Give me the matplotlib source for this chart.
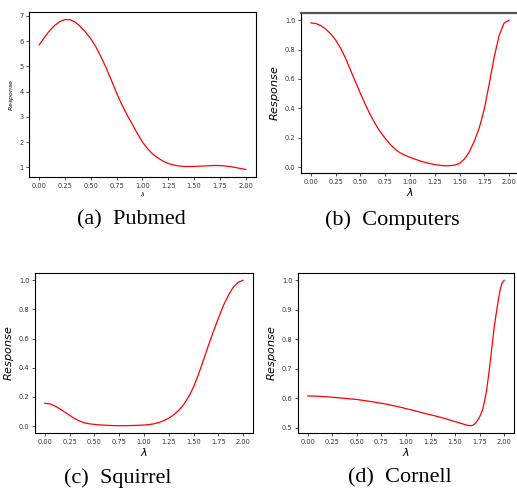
import matplotlib

matplotlib.use("Agg")
import matplotlib.pyplot as plt
from matplotlib.ticker import FormatStrFormatter

# Values (lambda, response)
lam = [0.00, 0.05, 0.10, 0.15, 0.20, 0.25, 0.30, 0.35, 0.40, 0.45, 0.50,
       0.55, 0.60, 0.65, 0.70, 0.75, 0.80, 0.85, 0.90, 0.95, 1.00,
       1.05, 1.10, 1.15, 1.20, 1.25, 1.30, 1.35, 1.40, 1.45, 1.50,
       1.55, 1.60, 1.65, 1.70, 1.75, 1.80, 1.85, 1.90, 1.95, 2.00]

pubmed = [5.86, 6.15, 6.42, 6.63, 6.78, 6.86, 6.85, 6.75, 6.57, 6.35, 6.09,
          5.76, 5.36, 4.92, 4.43, 3.93, 3.48, 3.08, 2.71, 2.34, 2.00,
          1.73, 1.52, 1.37, 1.24, 1.15, 1.09, 1.05, 1.03, 1.03, 1.03,
          1.04, 1.05, 1.06, 1.07, 1.065, 1.05, 1.025, 0.99, 0.95, 0.91]

computers = [0.982, 0.978, 0.963, 0.940, 0.908, 0.865, 0.810, 0.740, 0.660, 0.580, 0.501,
             0.425, 0.355, 0.293, 0.240, 0.195, 0.155, 0.122, 0.097, 0.080, 0.066,
             0.054, 0.042, 0.032, 0.024, 0.017, 0.012, 0.009, 0.009, 0.013, 0.025,
             0.055, 0.105, 0.178, 0.270, 0.395, 0.569, 0.750, 0.898, 0.982, 1.000]

squirrel = [0.156, 0.152, 0.138, 0.118, 0.096, 0.073, 0.051, 0.034, 0.022, 0.015, 0.011,
            0.008, 0.006, 0.004, 0.003, 0.002, 0.002, 0.003, 0.004, 0.005, 0.007,
            0.010, 0.015, 0.024, 0.037, 0.054, 0.077, 0.107, 0.147, 0.200, 0.268,
            0.355, 0.452, 0.553, 0.648, 0.738, 0.825, 0.895, 0.952, 0.986, 1.000]

cornell_lam = [0.00, 0.10, 0.20, 0.30, 0.40, 0.50, 0.60, 0.70, 0.80, 0.90, 1.00,
               1.10, 1.20, 1.30, 1.40, 1.50, 1.55, 1.60, 1.63, 1.66, 1.69,
               1.72, 1.75, 1.78, 1.80, 1.82, 1.84, 1.86, 1.88, 1.90, 1.92,
               1.94, 1.96, 1.98, 2.00]
cornell = [0.608, 0.607, 0.605, 0.602, 0.599, 0.596, 0.591, 0.586, 0.580, 0.573, 0.565,
           0.557, 0.548, 0.540, 0.531, 0.521, 0.516, 0.511, 0.508, 0.507, 0.510,
           0.521, 0.537, 0.561, 0.590, 0.625, 0.675, 0.729, 0.788, 0.845, 0.890,
           0.932, 0.970, 0.992, 1.000]

x_ticks = [0.0, 0.25, 0.5, 0.75, 1.0, 1.25, 1.5, 1.75, 2.0]
captions = ["(a)  Pubmed", "(b)  Computers", "(c)  Squirrel", "(d)  Cornell"]

W, H = 517, 493
fig = plt.figure(figsize=(W / 100, H / 100), dpi=100)


def add_axes_px(left, top, right, bottom):
    return fig.add_axes([left / W, 1 - bottom / H, (right - left) / W, (bottom - top) / H])


panels = [
    (add_axes_px(29, 12, 256, 177), lam, pubmed, 4.5),
    (add_axes_px(301, 13, 519, 173), lam, computers, 8),
    (add_axes_px(35, 273, 253, 433), lam, squirrel, 8),
    (add_axes_px(298, 273, 514, 433), cornell_lam, cornell, 8),
]

for ax, xs, ys, lab_size in panels:
    ax.plot(xs, ys, color="red", linewidth=0.9)
    ax.set_xticks(x_ticks)
    ax.xaxis.set_major_formatter(FormatStrFormatter("%.2f"))
    ax.tick_params(labelsize=4.8, length=2, width=0.6, pad=2, colors="#333333",
                   labelcolor="#333333")
    ax.set_ylabel("$Response$", fontsize=lab_size, labelpad=2)
    ax.set_xlabel("$\\lambda$", fontsize=lab_size, labelpad=1)
    for sp in ax.spines.values():
        sp.set_linewidth(0.8)

panels[0][0].set_yticks([1, 2, 3, 4, 5, 6, 7])
panels[1][0].set_yticks([0.0, 0.2, 0.4, 0.6, 0.8, 1.0])
panels[1][0].spines["top"].set_linewidth(1.6)
panels[1][0].spines["top"].set_color("#555555")
panels[2][0].set_yticks([0.0, 0.2, 0.4, 0.6, 0.8, 1.0])
panels[3][0].set_yticks([0.5, 0.6, 0.7, 0.8, 0.9, 1.0])

# Sub-captions
cap_pos = [(131, 220), (392, 220), (118, 478), (400, 478)]
for (cx, cy), text in zip(cap_pos, captions):
    fig.text(cx / W, 1 - cy / H, text, ha="center", va="center",
             fontsize=16, family="Liberation Serif")

plt.savefig("out.png", dpi=100)
